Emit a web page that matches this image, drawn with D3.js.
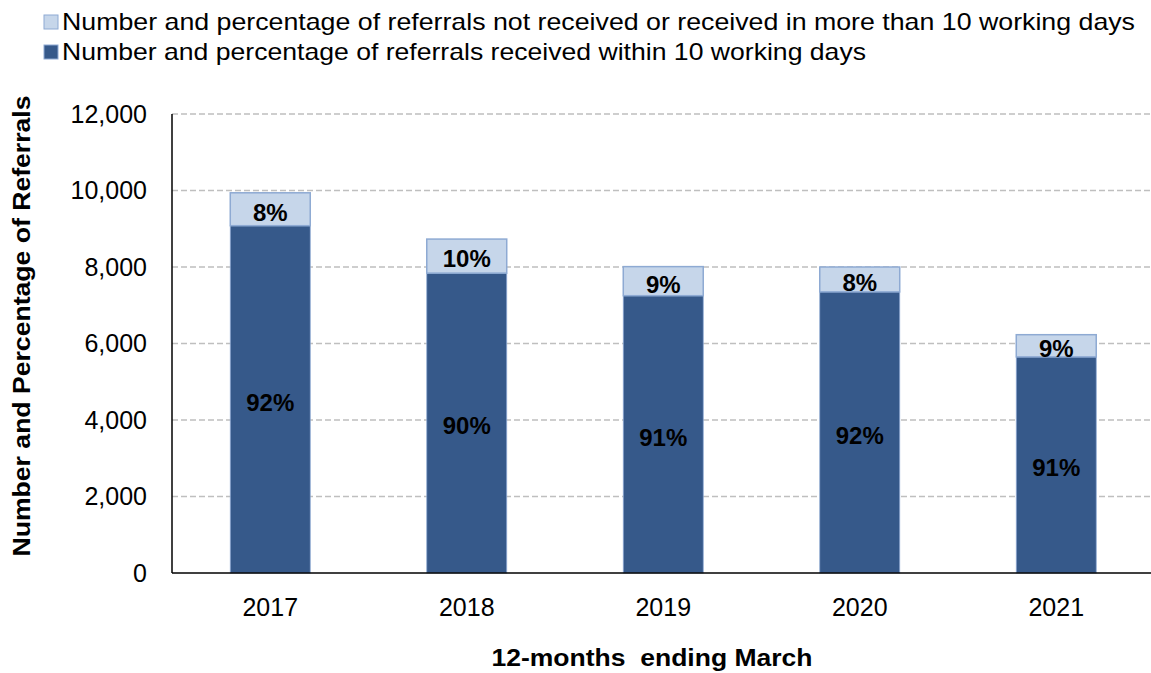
<!DOCTYPE html>
<html lang="en">
<head>
  <meta charset="UTF-8">
  <title>Referrals received within 10 working days</title>
  <script src="https://cdn.jsdelivr.net/npm/d3@7"></script>
  <style>
    body { margin: 0; background: #fff; }
    svg { display: block; font-family: "Liberation Sans", Arial, sans-serif; }
  </style>
</head>
<body>
<svg id="chart"></svg>
<script>
  // data
  const years = ["2017", "2018", "2019", "2020", "2021"]
  const within = [9080, 7840, 7250, 7350, 5650]
  const notWithin = [860, 890, 760, 650, 580]
  const withinPct = ["92%", "90%", "91%", "92%", "91%"]
  const notWithinPct = ["8%", "10%", "9%", "8%", "9%"]
  const yTicks = [0, 2000, 4000, 6000, 8000, 10000, 12000]
  const legendLabels = [
    "Number and percentage of referrals not received or received in more than 10 working days",
    "Number and percentage of referrals received within 10 working days"
  ]

  const width = 1151
  const height = 673
  const dark = "#36598a"
  const light = "#c6d6ea"
  const edge = "#8eaad3"

  const svg = d3.select("#chart")
    .attr("width", width)
    .attr("height", height)

  const x = d3.scaleBand().domain(years).range([172, 1154.5]).padding(0)
  const barW = x.bandwidth() * 0.407
  const y = d3.scaleLinear().domain([0, 12000]).range([573, 114])

  // gridlines
  svg.append("g")
    .selectAll("line")
    .data(yTicks.filter(d => d > 0))
    .join("line")
    .attr("x1", 172).attr("x2", width)
    .attr("y1", d => y(d)).attr("y2", d => y(d))
    .attr("stroke", "#bfbfbf")
    .attr("stroke-width", 1.5)
    .attr("stroke-dasharray", "6,3")

  // y tick labels
  svg.append("g")
    .selectAll("text")
    .data(yTicks)
    .join("text")
    .attr("x", 147)
    .attr("y", d => y(d))
    .attr("dy", "0.35em")
    .attr("text-anchor", "end")
    .attr("font-size", 25)
    .text(d => d3.format(",")(d))

  const stack = years.map((yr, i) => ({ yr, a: within[i], b: notWithin[i], pa: withinPct[i], pb: notWithinPct[i] }))

  const bars = svg.append("g")
  bars.selectAll("rect.within")
    .data(stack)
    .join("rect")
    .attr("class", "within")
    .attr("x", d => x(d.yr) + (x.bandwidth() - barW) / 2)
    .attr("width", barW)
    .attr("y", d => y(d.a))
    .attr("height", d => y(0) - y(d.a))
    .attr("fill", dark)
    .attr("stroke", edge)
    .attr("stroke-width", 0.8)

  bars.selectAll("rect.not")
    .data(stack)
    .join("rect")
    .attr("class", "not")
    .attr("x", d => x(d.yr) + (x.bandwidth() - barW) / 2)
    .attr("width", barW)
    .attr("y", d => y(d.a + d.b))
    .attr("height", d => y(d.a) - y(d.a + d.b))
    .attr("fill", light)
    .attr("stroke", edge)
    .attr("stroke-width", 1.5)

  // segment labels
  const lab = svg.append("g")
    .attr("font-size", 24)
    .attr("font-weight", "bold")
    .attr("text-anchor", "middle")
  lab.selectAll("text.a")
    .data(stack)
    .join("text")
    .attr("x", d => x(d.yr) + x.bandwidth() / 2)
    .attr("y", d => (y(0) + y(d.a)) / 2 + 3)
    .attr("dy", "0.35em")
    .text(d => d.pa)
  lab.selectAll("text.b")
    .data(stack)
    .join("text")
    .attr("x", d => x(d.yr) + x.bandwidth() / 2)
    .attr("y", d => (y(d.a) + y(d.a + d.b)) / 2 + 3)
    .attr("dy", "0.35em")
    .text(d => d.pb)

  // axes lines
  svg.append("line")
    .attr("x1", 172).attr("x2", 172)
    .attr("y1", y(12000)).attr("y2", y(0))
    .attr("stroke", "#000").attr("stroke-width", 1.5)
  svg.append("line")
    .attr("x1", 172).attr("x2", width)
    .attr("y1", y(0)).attr("y2", y(0))
    .attr("stroke", "#000").attr("stroke-width", 1.5)

  // x tick labels
  svg.append("g")
    .selectAll("text")
    .data(years)
    .join("text")
    .attr("x", d => x(d) + x.bandwidth() / 2)
    .attr("y", 616)
    .attr("text-anchor", "middle")
    .attr("font-size", 25)
    .text(d => d)

  // axis titles
  svg.append("text")
    .attr("x", 652)
    .attr("y", 666)
    .attr("text-anchor", "middle")
    .attr("font-size", 23)
    .attr("font-weight", "bold")
    .attr("textLength", 321)
    .attr("lengthAdjust", "spacingAndGlyphs")
    .attr("xml:space", "preserve")
    .text("12-months  ending March")

  svg.append("text")
    .attr("transform", "translate(30,326) rotate(-90)")
    .attr("text-anchor", "middle")
    .attr("font-size", 23)
    .attr("font-weight", "bold")
    .attr("textLength", 461)
    .attr("lengthAdjust", "spacingAndGlyphs")
    .text("Number and Percentage of Referrals")

  // legend
  const leg = svg.append("g")
  const legFill = [light, dark]
  const legLen = [1073, 804]
  legendLabels.forEach((t, i) => {
    leg.append("rect")
      .attr("x", 44).attr("y", 15 + i * 30)
      .attr("width", 14).attr("height", 14)
      .attr("fill", legFill[i])
      .attr("stroke", edge)
      .attr("stroke-width", 1)
    leg.append("text")
      .attr("x", 62).attr("y", 30 + i * 30)
      .attr("font-size", 24)
      .attr("textLength", legLen[i])
      .attr("lengthAdjust", "spacingAndGlyphs")
      .text(t)
  })
</script>
</body>
</html>
